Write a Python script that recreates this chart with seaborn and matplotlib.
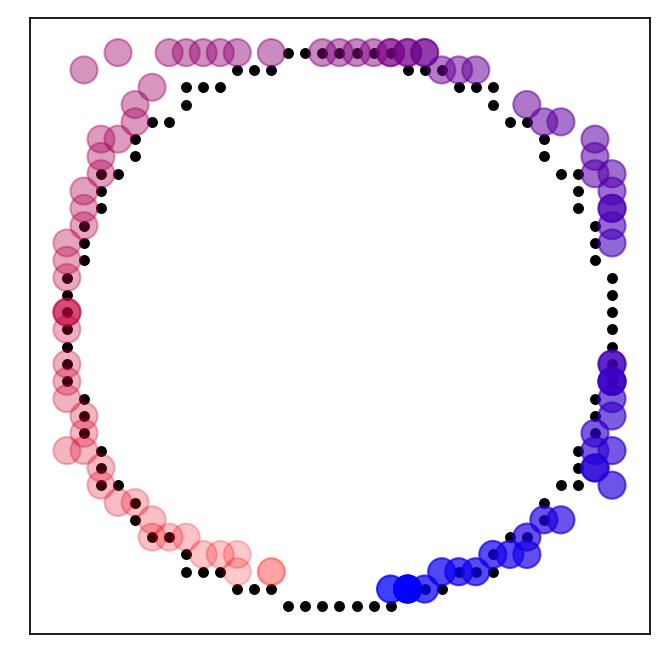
import numpy as np
import matplotlib
matplotlib.use('Agg')
import matplotlib.pyplot as plt
import seaborn as sns
from matplotlib.colors import LinearSegmentedColormap

# black rasterised circle (radius 16): grid row v -> u positions on that row
ring_rows = {
    16: [-3, -2, -1, 0, 1, 2, 3],
    15: [-6, -5, -4, 4, 5, 6],
    14: [-9, -8, -7, 7, 8, 9],
    13: [-9, 9],
    12: [-11, -10, 10, 11],
    11: [-12, 12],
    10: [-12, 12],
    9: [-14, -13, 13, 14],
    8: [-14, 14],
    7: [-14, 14],
    6: [-15, 15],
    5: [-15, 15],
    4: [-15, 15],
    3: [-16, 16],
    2: [-16, 16],
    1: [-16, 16],
    0: [-16, 16],
    -1: [-16, 16],
    -2: [-16, 16],
    -3: [-16, 16],
    -4: [-15, 15],
    -5: [-15, 15],
    -6: [-15, 15],
    -7: [-14, 14],
    -8: [-14, 14],
    -9: [-14, -13, 13, 14],
    -10: [-12, 12],
    -11: [-12, 12],
    -12: [-11, -10, 10, 11],
    -13: [-9, 9],
    -14: [-9, -8, -7, 7, 8, 9],
    -15: [-6, -5, -4, 4, 5, 6],
    -16: [-3, -2, -1, 0, 1, 2, 3],
}
ring_x = [u for v in ring_rows for u in ring_rows[v]]
ring_y = [v for v in ring_rows for u in ring_rows[v]]

# coloured points, in order from the red end to the blue end
path_x = [-4, -4, -6, -6, -7, -8, -9, -10, -11, -11, -12,
          -13, -14, -14, -15, -16, -15, -15, -16, -16, -16,
          -16, -16, -16, -16, -16, -16, -16, -15, -15, -15, -14,
          -14, -14, -13, -12, -12, -11, -15, -13, -10, -9,
          -8, -7, -6, -4, -1, 0, 1, 2, 3, 3,
          4, 4, 5, 5, 6, 7, 8, 11, 12, 13,
          15, 15, 15, 16, 16, 16, 16, 16, 16, 16,
          16, 16, 16, 16, 16, 16, 15, 15, 16, 15,
          15, 16, 13, 12, 11, 11, 10, 9, 8, 7,
          6, 5, 4, 4, 4, 3]
path_y = [-14, -14, -14, -13, -13, -13, -12, -12, -12, -11, -10,
          -10, -9, -8, -7, -7, -6, -5, -4, -3, -2,
          0, 1, 1, 1, 3, 4, 5, 6, 7, 8, 9,
          10, 11, 11, 12, 13, 14, 15, 16, 16, 16,
          16, 16, 16, 16, 16, 16, 16, 16, 16, 16,
          16, 16, 16, 16, 15, 15, 15, 13, 12, 12,
          11, 10, 9, 9, 8, 7, 7, 6, 5, -2,
          -2, -3, -3, -3, -4, -5, -6, -7, -7, -8,
          -8, -9, -11, -11, -12, -13, -13, -13, -14, -14,
          -14, -15, -15, -15, -15, -15]
path_order = list(range(len(path_x)))

fig = plt.figure(figsize=(6.69, 6.65), dpi=100)
ax = fig.add_axes([0.0448, 0.0466, 0.9268, 0.9263])

sns.scatterplot(x=ring_x, y=ring_y, color='black', s=62, linewidth=0, ax=ax)

red_blue = LinearSegmentedColormap.from_list('red_blue', ['#ff0000', '#0000ff'])
sns.scatterplot(x=path_x, y=path_y, hue=path_order, palette=red_blue,
                s=380, linewidth=1.5, edgecolor='face', legend=False, ax=ax)

# transparency grows from the red end towards the blue end
pts = ax.collections[-1]
fc = pts.get_facecolors()
fc[:, 3] = 0.2 + 0.55 * np.linspace(0, 1, len(fc))
pts.set_facecolors(fc)
pts.set_edgecolors(fc)

ax.set_xlim(-18.17, 18.23)
ax.set_ylim(-17.6, 18.0)
ax.set_xticks([])
ax.set_yticks([])
ax.set_xlabel('')
ax.set_ylabel('')
for sp in ax.spines.values():
    sp.set_linewidth(1.25)
    sp.set_color('black')

fig.savefig('out.png', dpi=100)
